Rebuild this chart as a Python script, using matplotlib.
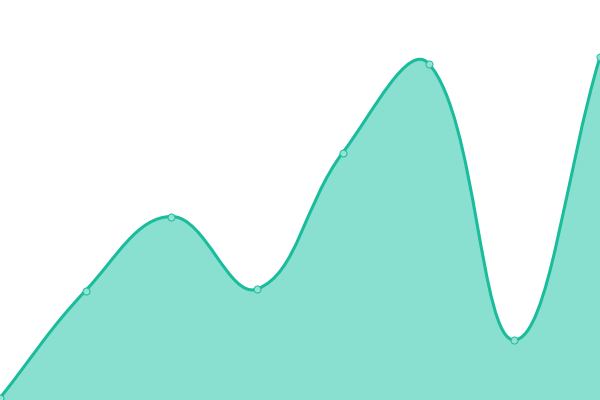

# plot.py
# Smooth area chart (Chart.js style tension spline), no axes.

import numpy as np
import matplotlib
matplotlib.use("Agg")
import matplotlib.pyplot as plt
from matplotlib.path import Path
from matplotlib.patches import PathPatch

# Data
labels = ["A", "B", "C", "D", "E", "F", "G", "H"]
values = [2, 109.5, 183.5, 111, 247.5, 336.5, 60, 343]

line_color = "#1abc9c"
fill_color = "#8ae0d0"
tension = 0.4

W, H = 600, 400
x_max = len(values) - 1
y_max = 400


# Work in pixel space so the control points match the picture
def to_px(i, v):
    return np.array([i * W / x_max, v * H / y_max])


def to_data(p):
    return (p[0] * x_max / W, p[1] * y_max / H)


def spline_controls(pts, t):
    ctrl = []
    n = len(pts)
    for i in range(n):
        prev = pts[max(i - 1, 0)]
        cur = pts[i]
        nxt = pts[min(i + 1, n - 1)]
        d01 = np.hypot(*(cur - prev))
        d12 = np.hypot(*(nxt - cur))
        tot = d01 + d12
        fa = t * d01 / tot if tot else 0
        fb = t * d12 / tot if tot else 0
        cp_prev = cur - fa * (nxt - prev)
        cp_next = cur + fb * (nxt - prev)
        # keep control points inside chart area
        cp_prev = np.clip(cp_prev, [0, 0], [W, H])
        cp_next = np.clip(cp_next, [0, 0], [W, H])
        ctrl.append((cp_prev, cp_next))
    return ctrl


pts = [to_px(i, v) for i, v in enumerate(values)]
ctrl = spline_controls(pts, tension)

verts = [to_data(pts[0])]
codes = [Path.MOVETO]
for i in range(1, len(pts)):
    verts += [to_data(ctrl[i - 1][1]), to_data(ctrl[i][0]), to_data(pts[i])]
    codes += [Path.CURVE4] * 3

line_path = Path(verts, codes)

fill_verts = verts + [(x_max, 0), (0, 0), verts[0]]
fill_codes = codes + [Path.LINETO, Path.LINETO, Path.CLOSEPOLY]
fill_path = Path(fill_verts, fill_codes)

fig = plt.figure(figsize=(6, 4), dpi=100)
ax = fig.add_axes([0, 0, 1, 1])
ax.add_patch(PathPatch(fill_path, facecolor=fill_color, edgecolor="none"))
ax.add_patch(PathPatch(line_path, facecolor="none", edgecolor=line_color,
                       linewidth=2.2, capstyle="round", joinstyle="round"))
ax.plot(range(len(values)), values, linestyle="none", marker="o",
        markersize=5, markerfacecolor="#9de6d8", markeredgecolor=line_color,
        markeredgewidth=0.8, alpha=0.9)

ax.set_xlim(0, x_max)
ax.set_ylim(0, y_max)
ax.axis("off")

fig.savefig("out.png", dpi=100)
